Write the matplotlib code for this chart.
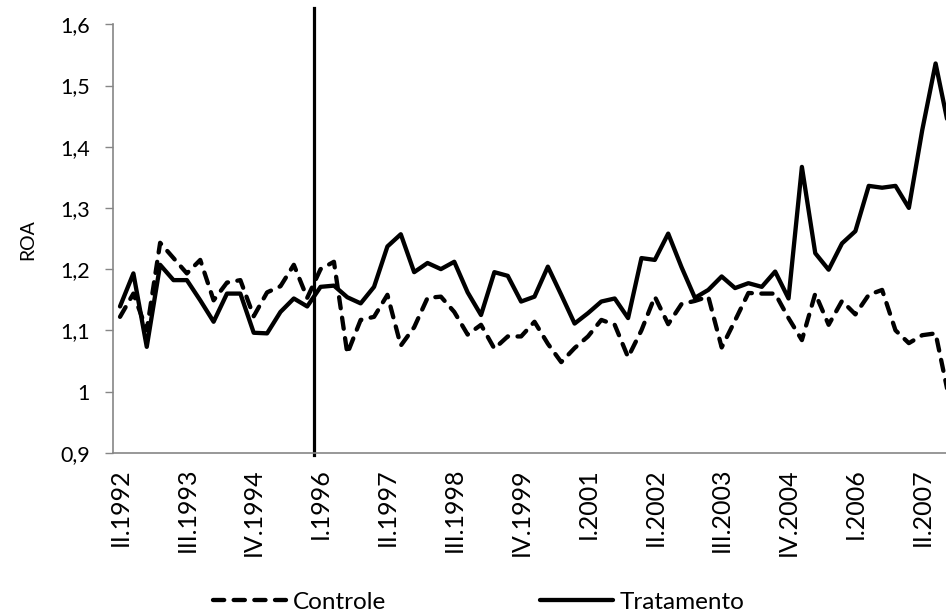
import matplotlib
matplotlib.use("Agg")
import matplotlib.pyplot as plt
import numpy as np

# quarterly series, II.1992 .. IV.2007
roman = ['I', 'II', 'III', 'IV']
quarters = [f"{roman[q]}.{y}" for y in range(1992, 2009) for q in range(4)][1:64]

tratamento = [1.139, 1.193, 1.073, 1.207, 1.182, 1.182, 1.149, 1.114, 1.160, 1.160,
              1.096, 1.095, 1.130, 1.152, 1.139, 1.171, 1.173, 1.154, 1.144, 1.171,
              1.237, 1.257, 1.195, 1.210, 1.200, 1.212, 1.162, 1.125, 1.195, 1.189,
              1.147, 1.155, 1.204, 1.158, 1.111, 1.128, 1.147, 1.152, 1.120, 1.218,
              1.215, 1.258, 1.203, 1.153, 1.166, 1.188, 1.169, 1.177, 1.171, 1.196,
              1.152, 1.367, 1.226, 1.199, 1.242, 1.262, 1.336, 1.333, 1.336, 1.300,
              1.427, 1.536, 1.430]

controle = [1.122, 1.160, 1.100, 1.243, 1.218, 1.193, 1.215, 1.149, 1.178, 1.182,
            1.123, 1.162, 1.172, 1.207, 1.153, 1.200, 1.212, 1.062, 1.117, 1.122,
            1.158, 1.075, 1.105, 1.153, 1.155, 1.130, 1.093, 1.109, 1.070, 1.090,
            1.090, 1.114, 1.078, 1.048, 1.071, 1.090, 1.117, 1.109, 1.056, 1.100,
            1.155, 1.110, 1.143, 1.148, 1.155, 1.072, 1.116, 1.161, 1.160, 1.160,
            1.120, 1.084, 1.160, 1.109, 1.148, 1.126, 1.158, 1.166, 1.100, 1.079,
            1.092, 1.095, 0.990]

tick_every = 5
break_point = 14.5  # between IV.1995 and I.1996

yticks = [0.9, 1.0, 1.1, 1.2, 1.3, 1.4, 1.5, 1.6]
ytick_labels = ['0,9', '1', '1,1', '1,2', '1,3', '1,4', '1,5', '1,6']

plt.rcParams['font.family'] = ['Lato', 'DejaVu Sans']

fig = plt.figure(figsize=(9.46, 6.14), dpi=100)
# axes runs past the right edge of the picture, like the cropped original
ax = fig.add_axes([0.1198, 0.2627, 0.8904, 0.6977])

x = np.arange(len(quarters))
ax.plot(x, controle, color='black', lw=3.1, linestyle=(0, (2.6, 2.2)),
        dash_capstyle='round', solid_joinstyle='round', label='Controle')
ax.plot(x, tratamento, color='black', lw=3.1, solid_capstyle='round',
        label='Tratamento')

ax.axvline(break_point, ymin=-0.005, ymax=1.038, color='black', lw=2.3, clip_on=False)

ax.set_xlim(-0.5, len(quarters) - 0.5)
ax.set_ylim(0.9, 1.6)

ax.set_xticks(x[::tick_every])
ax.set_xticklabels(quarters[::tick_every], rotation=90, fontsize=18)
ax.tick_params(axis='x', length=0, pad=11)

ax.set_yticks(yticks)
ax.set_yticklabels(ytick_labels, fontsize=15.5)
ax.tick_params(axis='y', length=6, width=1, color='#868686', pad=11)

for s in ['top', 'right']:
    ax.spines[s].set_visible(False)
for s in ['left', 'bottom']:
    ax.spines[s].set_color('#868686')
    ax.spines[s].set_linewidth(1.2)

fig.text(28 / 946, 1 - 240 / 614, 'ROA', rotation=90, ha='center', va='center',
         fontsize=14)

fig.legend(loc='center', bbox_to_anchor=(479 / 946, 1 - 602 / 614), ncol=2,
           frameon=False, fontsize=17.5, handlelength=3.0, handletextpad=0.3,
           columnspacing=6.3)

fig.savefig('out.png', dpi=100)
